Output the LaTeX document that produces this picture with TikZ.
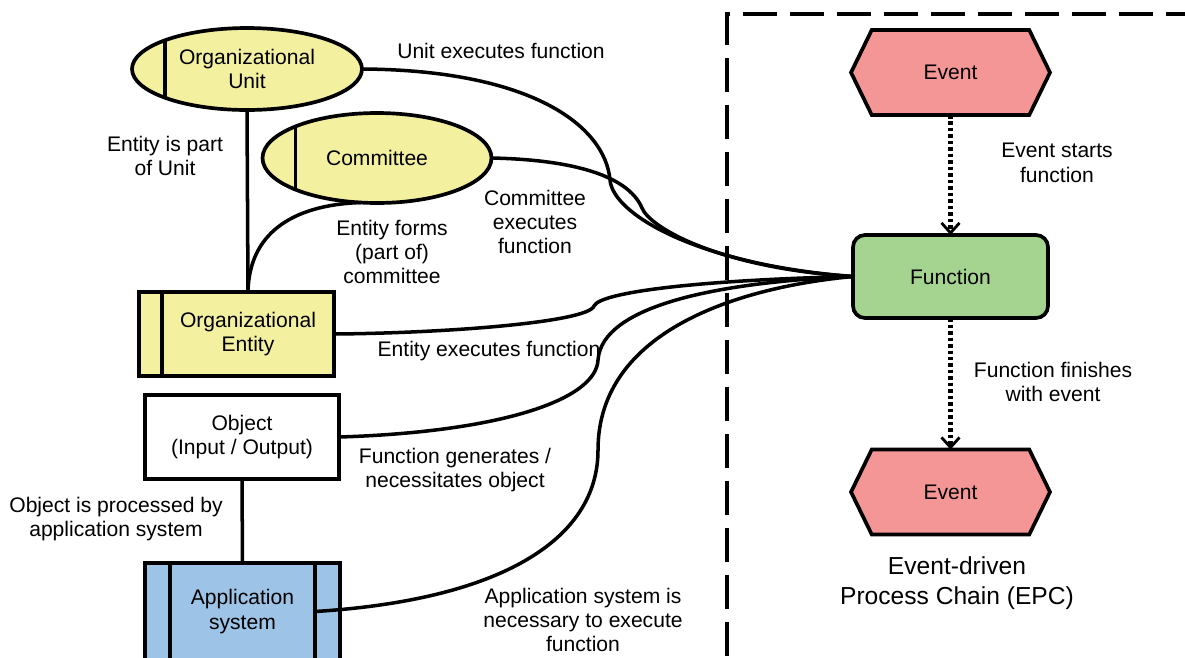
\documentclass[tikz,border=0pt]{standalone}
\usepackage{fontspec}
\setmainfont{Liberation Sans}
\usepackage{xcolor}
\usepackage{tikz}
\usetikzlibrary{arrows.meta, shapes.geometric, shapes.symbols, positioning}

\definecolor{vangnhat}{RGB}{243,240,160}
\definecolor{hongnhat}{RGB}{245,150,150}
\definecolor{xanhla}{RGB}{165,212,145}
\definecolor{xanhduong}{RGB}{157,195,230}

\tikzset{
    txt/.style={font=\fontsize{12}{13.9}\selectfont, align=center, inner sep=0pt},
    khung/.style={draw, line width=2.1pt, outer sep=0pt, txt},
    unitell/.style={khung, ellipse, fill=vangnhat, minimum width=4.6cm, minimum height=1.64cm,
        path picture={\draw[line width=2.1pt]
            ([xshift=0.66cm]path picture bounding box.south west) --
            ([xshift=0.66cm]path picture bounding box.north west);}},
    orgbox/.style={khung, rectangle, minimum height=1.68cm},
    evt/.style={khung, signal, signal to=west and east, signal pointer angle=128,
        fill=hongnhat, minimum width=3.98cm, minimum height=1.7cm},
    fnbox/.style={khung, rectangle, rounded corners=0.24cm, fill=xanhla,
        minimum width=3.9cm, minimum height=1.66cm},
    link/.style={line width=2pt},
    flow/.style={line width=2.6pt, dash pattern=on 0.07cm off 0.06cm}
}

\begin{document}
\begin{tikzpicture}[x=0.02cm, y=-0.02cm, >={Straight Barb[length=0.2cm, width=0.36cm, line width=1.6pt]}]
    \clip (0,0) rectangle (1185,657);
    % Khung nét đứt
    \draw[line width=2.2pt, dash pattern=on 0.68cm off 0.26cm] (1200,14) -- (727,14) -- (727,680);

    % Các đối tượng tổ chức
    \node[unitell] (ou) at (247,69) {Organizational\\Unit};
    \node[unitell, minimum width=4.58cm, minimum height=1.8cm] (cm) at (377,158) {Committee};
    \node[orgbox, fill=vangnhat, minimum width=3.44cm] (ent) at (248,334) {Organizational\\Entity};
    \node[orgbox, fill=vangnhat, minimum width=0.46cm, left=0pt of ent] (entL) {};
    \node[orgbox, fill=white, minimum width=3.88cm] (obj) at (242,437) {Object\\(Input / Output)};
    \node[orgbox, fill=xanhduong, minimum width=2.9cm, minimum height=1.94cm] (app) at (242.5,611.5) {Application\\system};
    \node[orgbox, fill=xanhduong, minimum width=0.5cm, minimum height=1.94cm, left=0pt of app] (appL) {};
    \node[orgbox, fill=xanhduong, minimum width=0.5cm, minimum height=1.94cm, right=0pt of app] (appR) {};

    % Chuỗi sự kiện (EPC)
    \node[evt] (ev1) at (950.5,72.5) {Event};
    \node[fnbox] (fn) at (950.5,276.5) {Function};
    \node[evt] (ev2) at (950.5,492) {Event};
    \node[font=\fontsize{14}{17}\selectfont, align=center, inner sep=0pt] (epc) at (957,583) {Event-driven\\Process Chain (EPC)};

    \draw[flow, ->] (ev1.south) -- (fn.north);
    \draw[flow, ->] (fn.south) -- (ev2.north);

    % Các đường nối
    \draw[link] (ou.south) -- (ent.north);
    \draw[link] (obj.south) -- (app.north);
    \draw[link] (ent.north) .. controls (249,235) and (290,205) .. (cm.250);
    \draw[link] (ou.east) .. controls (530,70) and (605,125) .. (610,180)
        .. controls (613,215) and (700,265) .. (fn.west);
    \draw[link] (cm.east) .. controls (585,160) and (630,180) .. (642,208)
        .. controls (650,228) and (720,268) .. (fn.west);
    \draw[link] (ent.east) .. controls (450,333) and (588,322) .. (594,306)
        .. controls (600,292) and (700,280) .. (fn.west);
    \draw[link] (obj.east) .. controls (500,432) and (596,400) .. (598,360)
        .. controls (602,305) and (720,282) .. (fn.west);
    \draw[link] (app.east) .. controls (500,600) and (598,540) .. (598,450)
        .. controls (598,330) and (740,287) .. (fn.west);

    % Nhãn
    \node[txt] (lUnit) at (501,51) {Unit executes function};
    \node[txt] (lPart) at (165,156) {Entity is part\\of Unit};
    \node[txt] (lCom) at (535,222) {Committee\\executes\\function};
    \node[txt] (lForm) at (392,252) {Entity forms\\(part of)\\committee};
    \node[txt] (lEnt) at (489,351) {Entity executes function};
    \node[txt] (lObj) at (455,470) {Function generates /\\necessitates object};
    \node[txt] (lProc) at (116,519) {Object is processed by\\application system};
    \node[txt] (lApp) at (583,620) {Application system is\\necessary to execute\\function};
    \node[txt] (lStart) at (1057,163) {Event starts\\function};
    \node[txt] (lFin) at (1053,382) {Function finishes\\with event};
\end{tikzpicture}
\end{document}
